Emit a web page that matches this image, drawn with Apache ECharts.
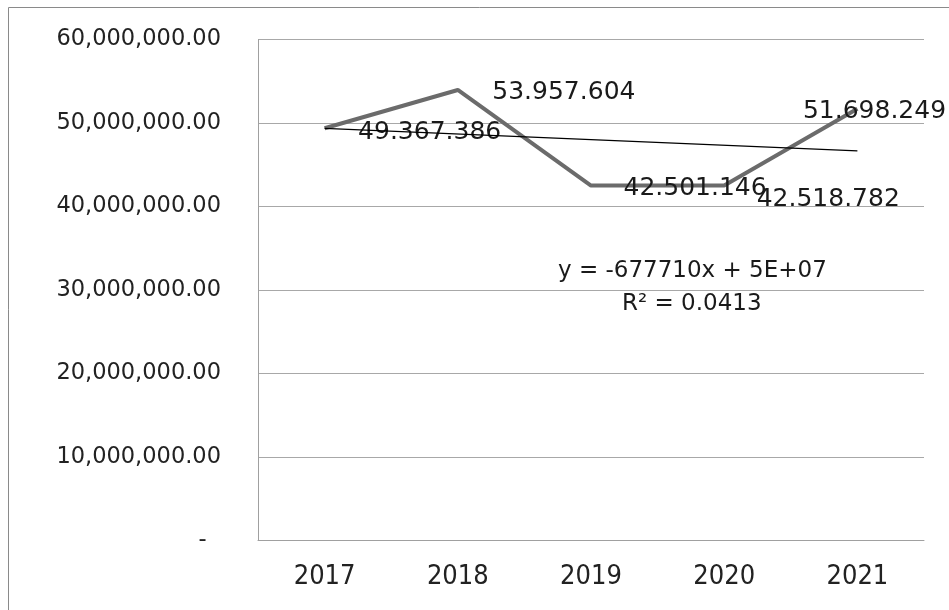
<!DOCTYPE html>
<html>
<head>
<meta charset="utf-8">
<script src="https://cdn.jsdelivr.net/npm/echarts@6/dist/echarts.min.js"></script>
<style>
html,body{margin:0;padding:0;background:#fff;}
#c{width:949px;height:610px;}
</style>
</head>
<body>
<div id="c"></div>
<script>
const categories = ['2017', '2018', '2019', '2020', '2021'];
const values = [49367386, 53957604, 42501146, 42518782, 51698249];
const valueLabels = ['49.367.386', '53.957.604', '42.501.146', '42.518.782', '51.698.249'];
const trendValues = [49364053, null, null, null, 46653213];
const yTickValues = [0, 10000000, 20000000, 30000000, 40000000, 50000000, 60000000];
const yTickLabels = ['-  ', '10,000,000.00', '20,000,000.00', '30,000,000.00', '40,000,000.00', '50,000,000.00', '60,000,000.00'];
const equationText = 'y = -677710x + 5E+07';
const r2Text = 'R\u00B2 = 0.0413';

const labelOffsets = [[33, 4], [34, 3], [32, 3], [32, 14], [-55, 3]];

const chart = echarts.init(document.getElementById('c'));
const option = {
  backgroundColor: '#ffffff',
  animation: false,
  grid: { left: 258, right: 25, top: 39.5, bottom: 69.5, containLabel: false },
  xAxis: {
    type: 'category',
    data: categories,
    boundaryGap: true,
    axisLine: { show: true, lineStyle: { color: '#a0a0a0', width: 1 } },
    axisTick: { show: false },
    axisLabel: { fontFamily: 'DejaVu Sans Condensed', fontSize: 27, color: '#222', margin: 23 },
    splitLine: { show: false }
  },
  yAxis: {
    type: 'value',
    min: 0, max: 60000000, interval: 10000000,
    axisLine: { show: true, lineStyle: { color: '#a0a0a0', width: 1 } },
    axisTick: { show: false },
    axisLabel: {
      fontFamily: 'DejaVu Sans', fontSize: 22.5, color: '#222', margin: 37,
      formatter: function (v) {
        const i = yTickValues.indexOf(v);
        return i >= 0 ? yTickLabels[i] : '';
      }
    },
    splitLine: { show: true, lineStyle: { color: '#a8a8a8', width: 1 } }
  },
  series: [
    {
      type: 'line',
      data: values,
      symbol: 'circle',
      symbolSize: 1,
      showSymbol: true,
      itemStyle: { color: 'rgba(0,0,0,0)', borderWidth: 0 },
      lineStyle: { color: '#6b6b6b', width: 4 },
      label: {
        show: true,
        position: 'right',
        distance: 0,
        fontFamily: 'DejaVu Sans',
        fontSize: 25,
        color: '#1a1a1a',
        formatter: function (p) { return valueLabels[p.dataIndex]; }
      },
      labelLayout: function (params) {
        const o = labelOffsets[params.dataIndex];
        return { dx: o[0], dy: o[1], hideOverlap: false };
      },
      z: 3
    },
    {
      type: 'line',
      data: trendValues,
      connectNulls: true,
      symbol: 'none',
      lineStyle: { color: '#000', width: 1.3 },
      z: 4
    }
  ],
  graphic: [
    {
      type: 'rect', silent: true, z: -10,
      shape: { x: 8.5, y: 7.5, width: 980, height: 640 },
      style: { fill: 'none', stroke: '#8a8a8a', lineWidth: 1 }
    },
    {
      type: 'text', z: 10,
      style: { text: equationText, x: 558, y: 271, fill: '#1a1a1a', font: '23px "DejaVu Sans"', align: 'left', verticalAlign: 'middle' }
    },
    {
      type: 'text', z: 10,
      style: { text: r2Text, x: 622, y: 304, fill: '#1a1a1a', font: '23px "DejaVu Sans"', align: 'left', verticalAlign: 'middle' }
    }
  ]
};
chart.setOption(option);
</script>
</body>
</html>
